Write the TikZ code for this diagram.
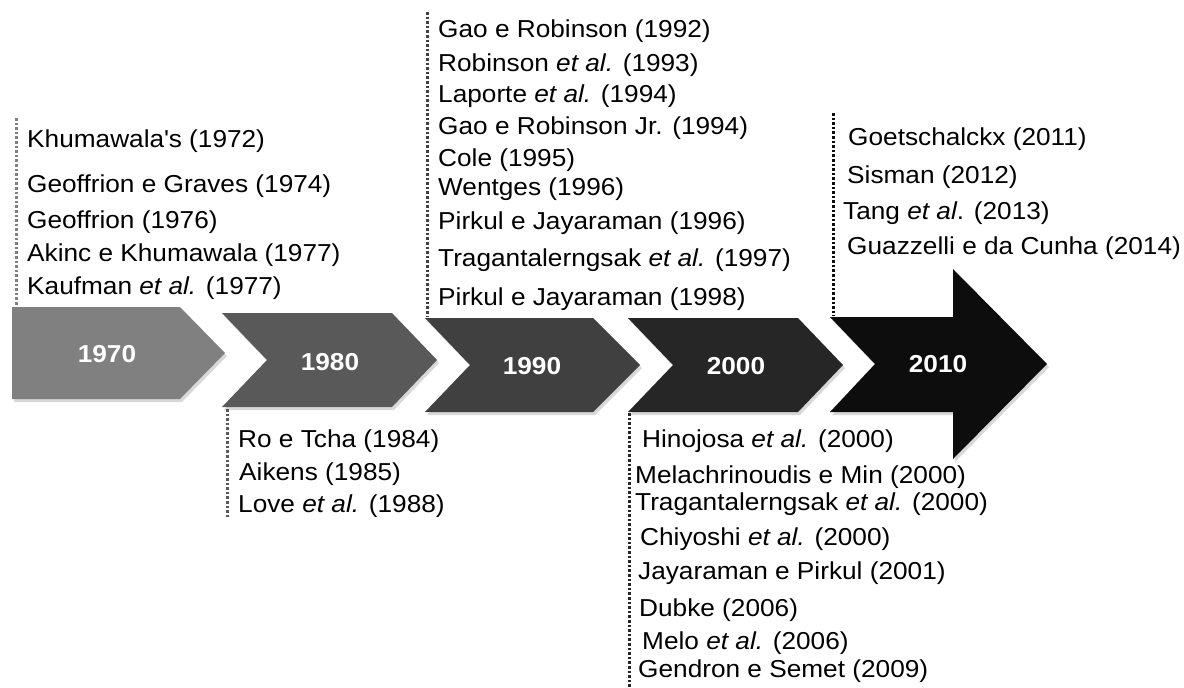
\documentclass[tikz,border=0pt]{standalone}
\usepackage{fontspec}
\setmainfont[FakeStretch=1.07]{Liberation Sans}
\usetikzlibrary{shadows}
\definecolor{cA}{HTML}{808080}
\definecolor{cB}{HTML}{595959}
\definecolor{cC}{HTML}{404040}
\definecolor{cD}{HTML}{262626}
\definecolor{cE}{HTML}{0D0D0D}
\tikzset{
  era/.style={drop shadow={opacity=0.3, shadow xshift=2pt, shadow yshift=-3pt}},
  year/.style={text=white, font=\fontsize{24.5}{29}\selectfont\bfseries},
  ref/.style={anchor=base west, inner sep=0pt, font=\fontsize{24.5}{29}\selectfont},
  guide/.style={line width=3pt, dash pattern=on 2.6pt off 2pt},
}
\newcommand{\etal}{\textit{et al.}}
\begin{document}
\begin{tikzpicture}[x=1pt,y=-1pt]
\useasboundingbox[fill=white] (0,0) rectangle (1184,688);

% timeline segments
\fill[cA, era] (12,307) -- (180,307) -- (225,353) -- (180,399) -- (12,399) -- cycle;
\fill[cB, era] (222,313) -- (392,313) -- (437,360) -- (392,407) -- (222,407) -- (267,360) -- cycle;
\fill[cC, era] (425,318) -- (593,318) -- (640,365) -- (593,412) -- (425,412) -- (470,365) -- cycle;
\fill[cD, era] (628,318) -- (798,318) -- (843,365) -- (798,412) -- (628,412) -- (673,365) -- cycle;
\fill[cE, era] (830,317) -- (953,317) -- (953,269) -- (1047,364) -- (953,459) -- (953,412) -- (830,412) -- (875,364) -- cycle;

\node[year] (y70) at (107,354) {1970};
\node[year] (y80) at (330,362) {1980};
\node[year] (y90) at (532,366) {1990};
\node[year] (y00) at (736,366) {2000};
\node[year] (y10) at (938,364) {2010};

% guide lines
\coordinate (a1) at (16,118);  \coordinate (a2) at (16,306);
\coordinate (b1) at (227,409); \coordinate (b2) at (227,518);
\coordinate (c1) at (427,12);  \coordinate (c2) at (427,316);
\coordinate (d1) at (629,413); \coordinate (d2) at (629,688);
\coordinate (e1) at (833,113); \coordinate (e2) at (833,316);
\draw[guide, cA] (a1) -- (a2);
\draw[guide, cB] (b1) -- (b2);
\draw[guide, cC] (c1) -- (c2);
\draw[guide, cD] (d1) -- (d2);
\draw[guide, cE] (e1) -- (e2);

% 1970s
\node[ref] (t70a) at (27,147) {Khumawala\textquotesingle s (1972)};
\node[ref] (t70b) at (27,192) {Geoffrion e Graves (1974)};
\node[ref] (t70c) at (27,228) {Geoffrion (1976)};
\node[ref] (t70d) at (27,261) {Akinc e Khumawala (1977)};
\node[ref] (t70e) at (27,294) {Kaufman \etal{} (1977)};

% 1980s
\node[ref] (t80a) at (238,447) {Ro e Tcha (1984)};
\node[ref] (t80b) at (239,480) {Aikens (1985)};
\node[ref] (t80c) at (238,512) {Love \etal{} (1988)};

% 1990s
\node[ref] (t90a) at (438,37)  {Gao e Robinson (1992)};
\node[ref] (t90b) at (438,71)  {Robinson \etal{} (1993)};
\node[ref] (t90c) at (438,102) {Laporte \etal{} (1994)};
\node[ref] (t90d) at (438,134) {Gao e Robinson Jr. (1994)};
\node[ref] (t90e) at (438,166) {Cole (1995)};
\node[ref] (t90f) at (438,195) {Wentges (1996)};
\node[ref] (t90g) at (438,229) {Pirkul e Jayaraman (1996)};
\node[ref] (t90h) at (438,266) {Tragantalerngsak \etal{} (1997)};
\node[ref] (t90i) at (438,305) {Pirkul e Jayaraman (1998)};

% 2000s
\node[ref] (t00a) at (642,447) {Hinojosa \etal{} (2000)};
\node[ref] (t00b) at (635,483) {Melachrinoudis e Min (2000)};
\node[ref] (t00c) at (635,510) {Tragantalerngsak \etal{} (2000)};
\node[ref] (t00d) at (640,545) {Chiyoshi \etal{} (2000)};
\node[ref] (t00e) at (638,579) {Jayaraman e Pirkul (2001)};
\node[ref] (t00f) at (639,616) {Dubke (2006)};
\node[ref] (t00g) at (642,649) {Melo \etal{} (2006)};
\node[ref] (t00h) at (638,677) {Gendron e Semet (2009)};

% 2010s
\node[ref] (t10a) at (848,145) {Goetschalckx (2011)};
\node[ref] (t10b) at (847,183) {Sisman (2012)};
\node[ref] (t10c) at (843,219) {Tang \textit{et al}. (2013)};
\node[ref] (t10d) at (847,254) {Guazzelli e da Cunha (2014)};
\end{tikzpicture}
\end{document}
